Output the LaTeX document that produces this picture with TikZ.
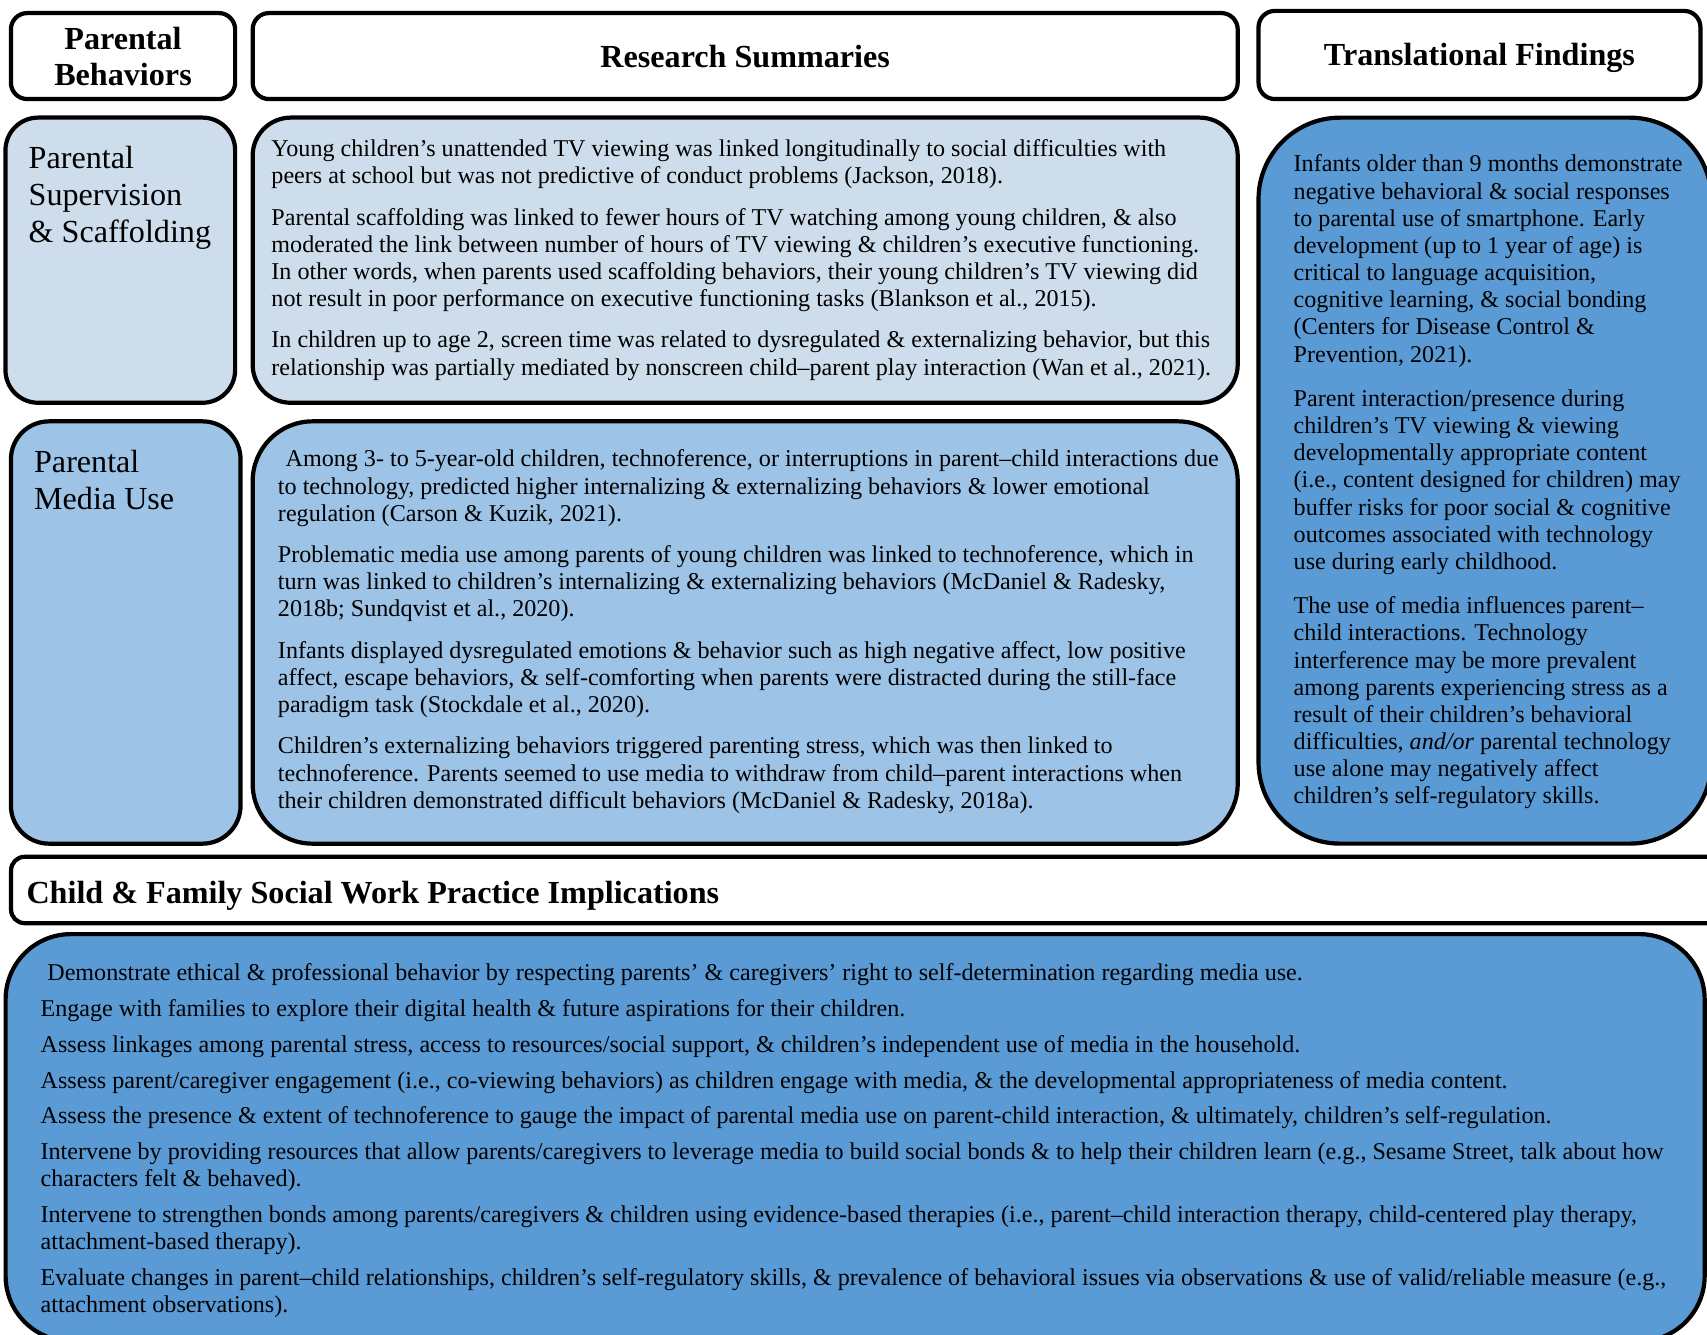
\documentclass[tikz,border=0pt]{standalone}
\usepackage{fontspec}
\setmainfont{Liberation Serif}
\definecolor{paleblue}{HTML}{CDDDEB}
\definecolor{midblue}{HTML}{9DC3E6}
\definecolor{deepblue}{HTML}{5B9BD5}

\begin{document}
\begin{tikzpicture}[x=0.02cm, y=-0.02cm,
      frame/.style={draw, line width=2.2pt, inner sep=0pt},
      head/.style={frame, rounded corners=0.3cm, fill=white, align=center, font=\fontsize{16.8}{18.8}\selectfont\bfseries},
      side/.style={anchor=north west, inner sep=0pt, align=left, font=\fontsize{16.8}{19.4}\selectfont},
      body/.style={anchor=north west, inner sep=0pt, align=left, font=\fontsize{12.6}{14.2}\selectfont}]
    \clip (0,0) rectangle (1568,1226);
    % Header row
    \node[head, minimum width=4.12cm, minimum height=1.58cm] (hbeh) at (113,51.5) {Parental\\Behaviors};
    \node[head, minimum width=18.1cm, minimum height=1.58cm] (hsum) at (684.5,51.5) {Research Summaries};
    \node[head, minimum width=8.12cm, minimum height=1.62cm, text height=14pt, text depth=2.7pt] (htra) at (1359,50.5) {Translational Findings};
    % Row 1: supervision
    \node[frame, fill=paleblue, rounded corners=0.6cm, minimum width=4.22cm, minimum height=5.24cm] (supbox) at (110.5,239) {};
    \node[frame, fill=paleblue, rounded corners=0.7cm, minimum width=18.1cm, minimum height=5.24cm] (sumbox1) at (684.5,239) {};
    % Row 2: media use
    \node[frame, fill=midblue, rounded corners=0.7cm, minimum width=4.22cm, minimum height=7.76cm] (medbox) at (115.5,581) {};
    \node[frame, fill=midblue, rounded corners=1.1cm, minimum width=18.1cm, minimum height=7.76cm] (sumbox2) at (684.5,581) {};
    % Right column
    \node[frame, fill=deepblue, rounded corners=1.5cm, minimum width=8.32cm, minimum height=13.34cm] (trabox) at (1364,441.5) {};
    % Bottom band
    \node[frame, fill=white, rounded corners=0.25cm, minimum width=31.6cm, minimum height=1.22cm] (himp) at (800,817.5) {};
    \node[frame, fill=deepblue, rounded corners=1.2cm, minimum width=31.22cm, minimum height=7.48cm] (impbox) at (785.5,1045) {};

    % Texts
    \node[side] (suptxt) at (26,134) {Parental\\Supervision\\\& Scaffolding};
    \node[side] (medtxt) at (31,413) {Parental\\Media Use};
    \node[body] (sumtxt1) at (249,128) {Young children's unattended TV viewing was linked longitudinally to social difficulties with\\
      peers at school but was not predictive of conduct problems (Jackson, 2018).\\[7.4pt]
      Parental scaffolding was linked to fewer hours of TV watching among young children, \& also\\
      moderated the link between number of hours of TV viewing \& children's executive functioning.\\
      In other words, when parents used scaffolding behaviors, their young children's TV viewing did\\
      not result in poor performance on executive functioning tasks (Blankson et al., 2015).\\[7.4pt]
      In children up to age 2, screen time was related to dysregulated \& externalizing behavior, but this\\
      relationship was partially mediated by nonscreen child--parent play interaction (Wan et al., 2021).};
    \node[body] (sumtxt2) at (255,413) {\hspace*{4pt}Among 3- to 5-year-old children, technoference, or interruptions in parent--child interactions due\\
      to technology, predicted higher internalizing \& externalizing behaviors \& lower emotional\\
      regulation (Carson \& Kuzik, 2021).\\[7.4pt]
      Problematic media use among parents of young children was linked to technoference, which in\\
      turn was linked to children's internalizing \& externalizing behaviors (McDaniel \& Radesky,\\
      2018b; Sundqvist et al., 2020).\\[7.4pt]
      Infants displayed dysregulated emotions \& behavior such as high negative affect, low positive\\
      affect, escape behaviors, \& self-comforting when parents were distracted during the still-face\\
      paradigm task (Stockdale et al., 2020).\\[7.4pt]
      Children's externalizing behaviors triggered parenting stress, which was then linked to\\
      technoference. Parents seemed to use media to withdraw from child--parent interactions when\\
      their children demonstrated difficult behaviors (McDaniel \& Radesky, 2018a).};
    \begin{scope}
      \clip (1160,100) rectangle (1568,745);
      \node[body] (tratxt) at (1188,142) {Infants older than 9 months demonstrate\\
        negative behavioral \& social responses\\
        to parental use of smartphone. Early\\
        development (up to 1 year of age) is\\
        critical to language acquisition,\\
        cognitive learning, \& social bonding\\
        (Centers for Disease Control \&\\
        Prevention, 2021).\\[9pt]
        Parent interaction/presence during\\
        children's TV viewing \& viewing\\
        developmentally appropriate content\\
        (i.e., content designed for children) may\\
        buffer risks for poor social \& cognitive\\
        outcomes associated with technology\\
        use during early childhood.\\[9pt]
        The use of media influences parent--\\
        child interactions. Technology\\
        interference may be more prevalent\\
        among parents experiencing stress as a\\
        result of their children's behavioral\\
        difficulties, \emph{and/or} parental technology\\
        use alone may negatively affect\\
        children's self-regulatory skills.};
    \end{scope}
    \node[anchor=west, inner sep=0pt, font=\fontsize{16.8}{18.8}\selectfont\bfseries] (himptxt) at (24,823) {Child \& Family Social Work Practice Implications};
    \node[body] (imptxt) at (37,885) {\hspace*{3.5pt}Demonstrate ethical \& professional behavior by respecting parents' \& caregivers' right to self-determination regarding media use.\\[4.5pt]
      Engage with families to explore their digital health \& future aspirations for their children.\\[4.5pt]
      Assess linkages among parental stress, access to resources/social support, \& children's independent use of media in the household.\\[4.5pt]
      Assess parent/caregiver engagement (i.e., co-viewing behaviors) as children engage with media, \& the developmental appropriateness of media content.\\[4.5pt]
      Assess the presence \& extent of technoference to gauge the impact of parental media use on parent-child interaction, \& ultimately, children's self-regulation.\\[4.5pt]
      Intervene by providing resources that allow parents/caregivers to leverage media to build social bonds \& to help their children learn (e.g., Sesame Street, talk about how\\
      characters felt \& behaved).\\[4.5pt]
      Intervene to strengthen bonds among parents/caregivers \& children using evidence-based therapies (i.e., parent--child interaction therapy, child-centered play therapy,\\
      attachment-based therapy).\\[4.5pt]
      Evaluate changes in parent--child relationships, children's self-regulatory skills, \& prevalence of behavioral issues via observations \& use of valid/reliable measure (e.g.,\\
      attachment observations).};
  \end{tikzpicture}
\end{document}
